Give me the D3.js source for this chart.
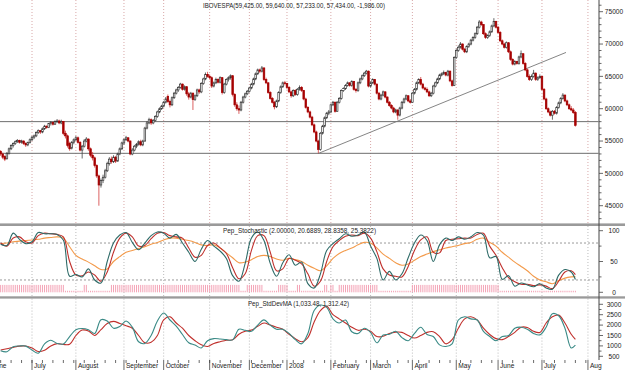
<!DOCTYPE html>
<html><head><meta charset="utf-8">
<script src="https://cdn.jsdelivr.net/npm/d3@7"></script>
<style>body{margin:0;background:#fff}svg{display:block}text{font-family:"Liberation Sans",Arial,sans-serif;fill:#222}</style>
</head><body><svg id="c" width="625" height="370"></svg>
<script>
// ---- IBOVESPA daily candles (values in thousands of points), one per trading day ----
const openK = [53.4,53.0,52.6,52.3,53.1,53.8,54.3,54.6,54.9,55.1,
54.8,55.0,54.6,54.4,54.8,55.2,55.6,55.8,56.3,56.6,
56.4,56.9,57.3,57.1,57.7,57.9,57.6,58.0,58.1,57.8,
58.0,56.2,55.8,54.6,53.9,54.8,55.2,55.5,54.8,53.6,
54.2,55.0,55.3,53.8,52.8,52.4,51.2,49.6,48.2,48.9,
49.4,50.4,51.5,52.2,51.8,52.5,51.9,53.0,53.8,54.7,
55.2,55.5,55.0,53.0,53.6,54.2,54.5,54.9,54.4,55.0,
57.0,57.8,58.3,57.8,58.2,58.8,59.5,60.0,60.4,61.0,
61.9,61.1,60.6,61.7,62.4,62.9,63.3,63.8,63.0,63.4,
62.3,61.8,62.4,61.4,62.0,62.9,62.6,63.9,64.6,65.3,
65.0,64.8,63.5,64.0,64.5,64.1,64.8,62.5,63.8,64.5,
64.8,65.1,62.2,60.6,60.0,59.8,61.0,61.8,62.3,62.7,
63.2,63.8,64.6,65.4,66.0,65.8,66.3,64.5,64.0,62.5,
61.6,61.0,60.3,61.2,62.5,63.4,64.0,63.9,63.3,62.6,
62.0,62.8,62.2,63.0,63.3,62.8,61.5,60.2,59.5,58.7,
57.5,56.4,55.0,53.7,56.2,57.3,58.6,59.3,59.5,60.6,
61.0,59.6,61.0,61.6,62.8,63.1,63.6,64.0,63.6,64.2,
63.0,62.8,64.0,64.6,65.1,65.5,65.8,63.5,64.0,64.5,
63.8,62.4,61.5,62.1,62.6,61.8,61.0,60.5,60.1,59.5,
59.8,59.0,60.1,61.0,61.5,62.0,61.2,61.0,62.4,63.0,
64.0,64.5,63.8,63.2,63.0,62.6,62.0,62.4,63.5,64.0,
64.6,65.2,65.4,65.6,65.2,65.8,64.3,63.6,67.9,69.0,
69.5,70.0,69.2,68.8,69.6,70.0,70.6,71.0,71.6,72.6,
73.4,73.0,71.6,71.0,71.3,71.9,72.8,73.5,72.6,71.8,
70.5,70.0,69.5,70.2,68.8,67.6,66.9,67.3,67.0,68.0,
68.5,67.0,66.0,65.0,64.5,65.0,65.5,64.5,64.8,65.0,
63.0,61.5,60.0,59.5,59.0,59.6,59.3,60.2,60.9,61.6,
62.1,61.2,60.6,60.0,59.8,59.425];
const highK = [53.6,53.2,52.8,53.3,54.0,54.5,54.8,55.1,55.3,55.2,
55.2,55.1,54.8,54.9,55.4,55.8,56.0,56.5,56.8,56.7,
57.1,57.5,57.4,57.8,58.1,58.0,58.2,58.4,58.3,58.3,
58.1,56.6,56.0,54.9,55.0,55.4,55.8,55.7,55.0,54.4,
55.3,55.6,55.4,54.0,53.3,52.6,51.4,49.8,49.2,49.8,
50.7,51.8,52.5,52.6,52.8,52.7,53.2,54.0,54.9,55.4,
55.8,55.6,55.1,53.9,54.4,54.7,55.1,55.2,55.2,57.2,
58.1,58.6,58.5,58.4,59.0,59.7,60.2,60.6,61.2,61.8,
62.2,61.4,61.9,62.6,63.1,63.5,64.0,63.9,63.6,63.5,
62.6,62.6,62.5,62.2,63.1,63.1,64.1,64.8,65.6,65.7,
65.3,65.0,64.2,64.8,64.7,65.0,64.9,64.0,64.7,65.0,
65.3,65.2,62.4,61.0,60.5,61.2,62.0,62.5,62.9,63.4,
64.0,64.8,65.6,66.2,66.2,66.6,66.4,64.8,64.1,62.7,
61.8,61.2,61.4,62.7,63.6,64.2,64.3,64.0,63.5,62.8,
63.0,63.0,63.2,63.6,63.5,62.9,61.7,60.4,59.7,58.9,
57.7,56.6,55.2,56.4,57.5,58.8,59.5,59.8,60.8,61.2,
61.1,61.2,61.8,63.0,63.3,63.8,64.2,64.1,64.4,64.3,
63.2,64.2,64.8,65.3,65.7,66.0,65.9,64.2,64.7,64.6,
63.9,62.6,62.3,62.8,62.7,61.9,61.2,60.7,60.3,60.0,
59.9,60.3,61.2,61.7,62.2,62.1,61.5,62.6,63.2,64.2,
64.7,64.9,64.0,63.4,63.3,62.8,62.6,63.7,64.2,64.8,
65.4,65.6,65.9,65.7,66.0,65.9,64.5,68.1,69.3,69.8,
70.3,70.1,69.4,69.8,70.2,70.8,71.2,71.8,72.8,73.7,
73.6,73.1,71.8,71.5,72.1,73.0,74.0,73.6,72.8,72.0,
70.7,70.2,70.4,70.3,69.0,67.8,67.5,67.4,68.2,69.0,
68.6,67.2,66.2,65.3,65.3,66.0,65.6,65.0,65.3,65.1,
63.2,61.7,60.2,59.7,59.8,59.8,60.4,61.1,61.8,62.4,
62.2,61.4,60.8,60.4,60.1,59.64];
const lowK = [52.7,52.2,51.9,52.1,52.9,53.6,54.0,54.4,54.7,54.6,
54.6,54.4,54.1,54.2,54.6,55.0,55.3,55.6,56.1,56.1,
56.2,56.7,56.9,57.0,57.4,57.4,57.5,57.8,57.6,57.6,
55.9,55.4,54.0,53.5,53.7,54.5,55.0,54.6,53.4,52.3,
54.0,54.8,53.5,52.5,52.0,50.9,49.3,45.0,47.8,48.5,
49.2,50.2,51.2,51.5,51.6,51.6,51.8,52.8,53.6,54.4,
55.0,54.8,52.8,52.8,53.4,53.9,54.3,54.2,54.2,54.9,
56.8,57.6,57.5,57.6,58.0,58.6,59.3,59.8,60.2,60.8,
60.9,60.2,60.4,61.5,62.2,62.6,63.1,62.8,62.8,62.0,
61.4,61.6,59.8,61.2,61.8,62.3,62.4,63.7,64.4,64.8,
64.5,63.2,63.3,63.8,63.9,63.9,62.2,62.3,63.6,64.2,
64.5,61.9,60.3,59.7,59.2,59.6,60.8,61.6,62.1,62.5,
63.0,63.6,64.4,65.2,65.5,65.6,64.3,63.8,62.3,61.4,
60.8,59.9,60.1,61.0,62.3,63.2,63.6,63.0,62.4,61.7,
61.8,62.0,62.0,62.8,62.6,61.3,60.0,59.3,58.5,57.3,
56.2,54.8,53.1,53.5,56.0,57.1,58.4,59.0,59.3,60.4,
59.4,59.5,60.8,61.4,62.6,62.9,63.4,63.4,63.4,62.8,
62.5,62.6,63.8,64.4,64.9,65.3,63.3,63.3,63.8,63.6,
62.2,61.3,61.3,61.9,61.6,60.8,60.3,59.9,59.3,59.3,
58.3,58.8,59.9,60.8,61.3,61.0,60.8,60.9,62.2,62.8,
63.8,63.6,63.0,62.8,62.4,61.8,61.8,62.2,63.3,63.8,
64.4,65.0,65.2,65.0,65.0,64.1,63.4,63.5,67.7,68.8,
69.3,69.0,68.6,68.6,69.4,69.8,70.4,70.8,71.4,72.4,
72.8,71.4,70.8,70.8,71.1,71.7,72.6,72.4,71.6,70.3,
69.8,69.3,69.3,68.6,67.4,66.7,66.7,66.8,66.8,67.8,
66.8,65.8,64.8,64.3,64.3,64.8,64.3,64.3,64.6,62.8,
61.3,59.8,59.3,58.8,58.3,59.1,59.1,60.0,60.7,61.4,
61.0,60.4,59.8,59.6,59.2,57.233];
const closeK = [53.0,52.5,52.2,53.1,53.8,54.3,54.6,54.9,55.1,54.8,
55.0,54.6,54.4,54.8,55.2,55.6,55.8,56.3,56.6,56.4,
56.9,57.3,57.1,57.7,57.9,57.6,58.0,58.1,57.8,58.0,
56.2,55.8,54.3,53.8,54.8,55.2,55.5,54.8,53.6,54.2,
55.0,55.3,53.8,52.8,52.4,51.2,49.6,48.2,48.9,49.4,
50.4,51.5,52.2,51.8,52.5,51.9,53.0,53.8,54.7,55.2,
55.5,55.0,53.0,53.6,54.2,54.5,54.9,54.4,55.0,57.0,
57.8,58.3,57.8,58.2,58.8,59.5,60.0,60.4,61.0,61.5,
61.1,60.6,61.7,62.4,62.9,63.3,63.8,63.0,63.4,62.3,
61.8,62.4,61.4,62.0,62.9,62.6,63.9,64.6,65.3,65.0,
64.8,63.5,64.0,64.5,64.1,64.8,62.5,63.8,64.5,64.8,
65.1,62.2,60.6,60.0,59.8,61.0,61.8,62.3,62.7,63.2,
63.8,64.6,65.4,66.0,65.8,66.3,64.5,64.0,62.5,61.6,
61.0,60.3,61.2,62.5,63.4,64.0,63.9,63.3,62.6,62.0,
62.8,62.2,63.0,63.3,62.8,61.5,60.2,59.5,58.7,57.5,
56.4,55.0,53.7,56.2,57.3,58.6,59.3,59.5,60.6,61.0,
59.6,61.0,61.6,62.8,63.1,63.6,64.0,63.6,64.2,63.0,
62.8,64.0,64.6,65.1,65.5,65.8,63.5,64.0,64.5,63.8,
62.4,61.5,62.1,62.6,61.8,61.0,60.5,60.1,59.5,59.8,
59.0,60.1,61.0,61.5,62.0,61.2,61.0,62.4,63.0,64.0,
64.5,63.8,63.2,63.0,62.6,62.0,62.4,63.5,64.0,64.6,
65.2,65.4,65.6,65.2,65.8,64.3,63.6,67.9,69.0,69.5,
70.0,69.2,68.8,69.6,70.0,70.6,71.0,71.6,72.6,73.4,
73.0,71.6,71.0,71.3,71.9,72.8,73.5,72.6,71.8,70.5,
70.0,69.5,70.2,68.8,67.6,66.9,67.3,67.0,68.0,68.5,
67.0,66.0,65.0,64.5,65.0,65.5,64.5,64.8,65.0,63.0,
61.5,60.0,59.5,59.0,59.6,59.3,60.2,60.9,61.6,62.1,
61.2,60.6,60.0,59.8,59.4,57.434];

// month starts (trading-day index) and labels
const monthIdx = [-5,15,36,59,78,100,119,137,158,177,197,218,238,259,281];
const monthLbl = ["June","July","August","September","October","November","December","2008","February","March","April","May","June","July","Aug"];

// drawn support levels and trend line (day index, price)
const supportLevels = [58000, 53100];
const trendDays = [152, 270.5];
const trendPrices = [53080, 68700];

// indicator samples (every 3rd trading day, last one = final day)
const sampleDays = d3.range(0, 274, 3).concat([275]);
const stochK = [78,76,96,86,79,82,97,95,95,94,85,26,29,25,38,20,15,50,80,93,97,81,69,80,92,98,96,88,94,80,65,50,70,84,
75,67,55,27,18,47,88,98,84,47,26,48,61,44,49,14,7,30,68,79,87,95,91,93,98,75,55,20,34,20,30,56,
80,93,84,50,77,88,84,90,86,90,97,93,56,58,21,27,10,15,12,9,14,7,5,28,37,33,20.7];
const stochD = [80,75,88,90,82,80,92,96,95,94,90,50,28,27,33,28,18,33,65,88,96,90,75,76,87,96,97,92,90,88,72,57,60,76,
80,72,63,40,22,30,68,92,92,65,35,38,55,52,46,30,10,18,50,74,84,91,93,92,96,88,66,38,28,26,25,42,
68,85,90,65,64,84,86,87,88,88,94,96,75,60,40,24,17,13,13,11,12,10,6,18,33,35,28.8];
const stochSlow = [79,80,82,83,84,85,86,88,89,90,88,74,60,54,49,43,37,38,50,58,65,68,71,74,78,81,85,88,88,86,84,81,77,76,
77,72,64,56,48,49,53,58,60,58,54,52,55,53,50,44,39,35,43,55,63,68,72,77,81,80,72,62,55,48,44,46,
52,58,62,66,69,72,74,76,79,81,86,88,81,75,65,57,49,42,35,26,20,17,14,19,23,25,25.4];
const devFast = [770,720,960,995,990,800,650,1100,1270,1120,1090,1450,1780,1840,1780,1600,2260,2200,1850,1930,2200,1900,1200,1120,1500,2200,2580,2245,1950,1550,1150,1040,900,1250,
1350,1330,1300,1290,1800,1750,1700,2000,2250,2000,1800,1800,1600,1300,1100,1600,2700,2966,2850,2300,2100,2245,1680,1600,1850,1650,1150,1520,1560,1700,1400,1250,
1600,1900,1550,1450,1050,970,1100,2245,2400,2300,2245,1700,1450,1250,1450,1500,1850,1900,1800,1600,1530,1900,2550,2450,1850,900,1033];
const devSlow = [800,860,930,990,995,900,730,790,1000,1110,1070,1080,1500,1760,1720,1500,1780,2080,2180,2080,1970,1850,1500,1150,1180,1500,2250,2400,2100,1850,1500,1250,1050,970,
1120,1200,1270,1290,1560,1700,1760,1940,2100,2000,1900,1800,1560,1350,1200,1400,2150,2700,2900,2500,2300,2100,1900,1750,1800,1700,1450,1460,1600,1660,1650,1500,
1380,1500,1650,1680,1450,1100,1300,1850,2300,2400,2250,1850,1550,1350,1300,1450,1650,1900,1880,1700,1650,2100,2400,2480,2100,1560,1312];
// pink signal bars: [fromDay, toDay, level]
const pinkRuns = [[0,30,12],[31,39,2.5],[40,41,12],[42,52,2.5],[53,114,12],[115,117,2.5],[118,125,12],[126,132,2.5],[133,137,12],[138,141,2.5],[142,143,12],[144,154,2.5],[155,156,12],[157,157,2.5],[158,159,12],[160,161,2.5],[162,180,12],[181,196,2.5],[197,238,12],[239,275,2.5]];

const titleMain = "IBOVESPA(59,425.00, 59,640.00, 57,233.00, 57,434.00, -1,986.00)";
const titleStoch = "Pep_Stochastic (2.00000, 20.6889, 28.8358, 25.3822)";
const titleDev = "Pep_StdDevMA (1,033.48, 1,312.42)";
const priceTicks = [45000,50000,55000,60000,65000,70000,75000];
const stochTicks = [0,50,100];
const devTicks = [500,1000,1500,2000,2500,3000];

// ---- drawing ----
const svg = d3.select('#c');
svg.append('rect').attr('width',625).attr('height',370).attr('fill','#fff');
const AX = 599;
const x = d3.scaleLinear().domain([0,275]).range([0.65,575.4]);
const yP = d3.scaleLinear().domain([45000,75000]).range([205.7,11.7]);
const yS = d3.scaleLinear().domain([0,100]).range([292.3,230.7]);
const yD = d3.scaleLinear().domain([500,3000]).range([356.3,304.3]);

const defs = svg.append('defs');
function clip(id,y0,h){defs.append('clipPath').attr('id',id).append('rect').attr('x',0).attr('y',y0).attr('width',AX-0.5).attr('height',h);}
clip('cm',0,223.3); clip('cs',226,70.2); clip('cd',298.6,61.4);

// vertical month grid
const panels = [[0,223,'#d8a8a8'],[226,296,'#bbb'],[298.6,360,'#bbb']];
monthIdx.forEach(m=>{
  panels.forEach(p=>{
    svg.append('line').attr('x1',x(m)).attr('x2',x(m)).attr('y1',p[0]).attr('y2',p[1])
      .attr('stroke',p[2]).attr('stroke-width',1).attr('stroke-dasharray','1,2');
  });
});

// main panel
const gm = svg.append('g').attr('clip-path','url(#cm)');
supportLevels.forEach(v=>{
  gm.append('line').attr('x1',0).attr('x2',AX).attr('y1',yP(v)).attr('y2',yP(v))
    .attr('stroke','#6e6e6e').attr('stroke-width',1);
});
gm.append('line').attr('x1',x(trendDays[0])).attr('y1',yP(trendPrices[0]))
  .attr('x2',x(trendDays[1])).attr('y2',yP(trendPrices[1])).attr('stroke','#777').attr('stroke-width',0.9);

const idx = d3.range(closeK.length);
idx.forEach(i=>{
  const o=openK[i]*1000,h=highK[i]*1000,l=lowK[i]*1000,c=closeK[i]*1000;
  const up = c>=o;
  const cx = x(i);
  gm.append('line').attr('x1',cx).attr('x2',cx).attr('y1',yP(h)).attr('y2',yP(l))
    .attr('stroke',up?'#444':'#d23a3a').attr('stroke-width',0.8);
  const top = yP(Math.max(o,c)), bot = yP(Math.min(o,c));
  gm.append('rect').attr('x',cx-0.8).attr('width',1.6).attr('y',top).attr('height',Math.max(0.8,bot-top))
    .attr('fill',up?'#fff':'#a50000').attr('stroke',up?'#333':'#a50000').attr('stroke-width',0.7);
});

// stochastic panel
const gs = svg.append('g').attr('clip-path','url(#cs)');
[80,20].forEach(v=>{
  gs.append('line').attr('x1',0).attr('x2',AX).attr('y1',yS(v)).attr('y2',yS(v))
    .attr('stroke','#999').attr('stroke-dasharray','2,2');
});
pinkRuns.forEach(r=>{
  d3.range(r[0],r[1]+1).forEach(i=>{
    gs.append('rect').attr('x',x(i)-0.5).attr('width',1).attr('y',yS(r[2])).attr('height',yS(0)-yS(r[2]))
      .attr('fill','#f4a3b6');
  });
});
function mkLine(ys){return d3.line().x((d,i)=>x(sampleDays[i])).y(d=>ys(d)).curve(d3.curveCatmullRom.alpha(0.5));}
gs.append('path').datum(stochSlow).attr('d',mkLine(yS)).attr('fill','none').attr('stroke','#f39a4a').attr('stroke-width',1.1);
gs.append('path').datum(stochD).attr('d',mkLine(yS)).attr('fill','none').attr('stroke','#c0302c').attr('stroke-width',1.1);
gs.append('path').datum(stochK).attr('d',mkLine(yS)).attr('fill','none').attr('stroke','#2e6b68').attr('stroke-width',1.1);

// std dev panel
const gd = svg.append('g').attr('clip-path','url(#cd)');
gd.append('path').datum(devSlow).attr('d',mkLine(yD)).attr('fill','none').attr('stroke','#c0302c').attr('stroke-width',1.1);
gd.append('path').datum(devFast).attr('d',mkLine(yD)).attr('fill','none').attr('stroke','#3a8a86').attr('stroke-width',1.1);

// separators
svg.append('rect').attr('x',0).attr('y',223.4).attr('width',625).attr('height',2.6).attr('fill','#9a9a9a');
svg.append('rect').attr('x',0).attr('y',296.3).attr('width',625).attr('height',2.3).attr('fill','#9a9a9a');

// right axis
svg.append('line').attr('x1',AX).attr('x2',AX).attr('y1',0).attr('y2',360).attr('stroke','#444');
function axisTicks(scale, major, minorStep, lo, hi){
  d3.range(lo, hi+0.001, minorStep).forEach(v=>{
    const y=scale(v);
    svg.append('line').attr('x1',AX).attr('x2',AX+(major.includes(v)?4:2.5)).attr('y1',y).attr('y2',y).attr('stroke','#444').attr('stroke-width',0.8);
  });
  major.forEach(v=>{
    svg.append('text').attr('x',614).attr('y',scale(v)).attr('dy','0.35em').attr('text-anchor','middle')
      .attr('font-size',6.6).text(v);
  });
}
axisTicks(yP, priceTicks, 1000, 43000, 76000);
axisTicks(yS, stochTicks, 25, 0, 100);
axisTicks(yD, devTicks, 250, 500, 3000);

// titles
svg.append('text').attr('x',203).attr('y',7.6).attr('font-size',6.6).attr('textLength',182).attr('lengthAdjust','spacingAndGlyphs').text(titleMain);
svg.append('text').attr('x',223).attr('y',232.6).attr('font-size',6.6).attr('textLength',153).attr('lengthAdjust','spacingAndGlyphs').text(titleStoch);
svg.append('text').attr('x',248).attr('y',305.6).attr('font-size',6.6).attr('textLength',101).attr('lengthAdjust','spacingAndGlyphs').text(titleDev);

// bottom axis
d3.range(0,285,5).forEach(i=>{
  svg.append('line').attr('x1',x(i)).attr('x2',x(i)).attr('y1',360).attr('y2',363).attr('stroke','#444').attr('stroke-width',0.8);
});
monthIdx.forEach((m,k)=>{
  svg.append('line').attr('x1',x(m)).attr('x2',x(m)).attr('y1',360).attr('y2',370).attr('stroke','#444').attr('stroke-width',0.8);
  svg.append('text').attr('x',x(m)+2).attr('y',368.3).attr('font-size',6.6).text(monthLbl[k]);
});
</script></body></html>
